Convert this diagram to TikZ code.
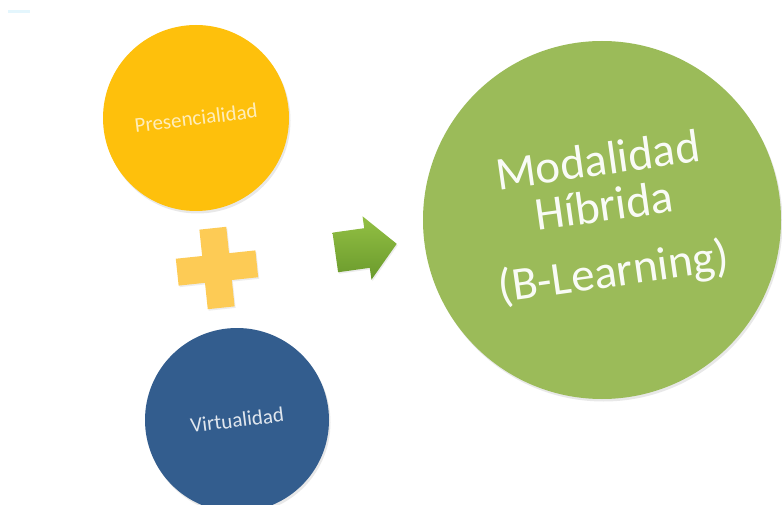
\documentclass[tikz,border=0pt]{standalone}
\usepackage{fontspec}
\setmainfont{Carlito}
\usetikzlibrary{shadows}
\definecolor{cyel}{HTML}{FEC00C}
\definecolor{cplus}{HTML}{FDCB55}
\definecolor{cblue}{HTML}{335D8E}
\definecolor{cgreen}{HTML}{9BBB59}
\definecolor{carrowT}{HTML}{93C044}
\definecolor{carrowB}{HTML}{6A9A2C}
\tikzset{
  disc/.style={circle, inner sep=0pt, drop shadow={opacity=0.18, shadow xshift=1.5pt, shadow yshift=-2.5pt}},
  smalltxt/.style={font=\fontsize{21}{21}\selectfont, rotate=7, inner sep=0pt},
  bigtxt/.style={font=\fontsize{47}{46}\selectfont, rotate=8, align=center, inner sep=0pt, text=white, text opacity=0.95},
}
\begin{document}
\begin{tikzpicture}[x=1pt, y=-1pt]
\useasboundingbox (0,0) rectangle (782,505);
\fill[white] (0,0) rectangle (782,505);
% faint mark top-left
\fill[cyan!30!white, opacity=0.35] (8,10) rectangle (30,13);
% circles
\node[disc, fill=cyel, minimum size=186pt] (pres) at (196,118) {};
\node[disc, fill=cblue, minimum size=184pt] (virt) at (237,420) {};
\node[disc, fill=cgreen, minimum size=358pt] (hyb) at (602,220) {};
% labels
\node[smalltxt, text=white, text opacity=0.72] (prestxt) at (pres.center) {Presencialidad};
\node[smalltxt, text=white, text opacity=0.85] (virttxt) at (virt.center) {Virtualidad};
\node[bigtxt] (hybtxt) at (606,219) {Modalidad\\Híbrida\\[20pt](B-Learning)};
% plus sign
\begin{scope}[shift={(217,268)}, rotate=6]
\fill[cplus, drop shadow={opacity=0.15, shadow xshift=1pt, shadow yshift=-1.5pt}]
  (-13.5,-40) -- (13.5,-40) -- (13.5,-13.5) -- (40,-13.5) -- (40,13.5) -- (13.5,13.5)
  -- (13.5,40) -- (-13.5,40) -- (-13.5,13.5) -- (-40,13.5) -- (-40,-13.5) -- (-13.5,-13.5) -- cycle;
\end{scope}
% arrow
\begin{scope}[shift={(367,248)}, rotate=8]
\shade[top color=carrowT, bottom color=carrowB, drop shadow={opacity=0.15, shadow xshift=1pt, shadow yshift=-1.5pt}]
  (-32,-20) -- (0,-20) -- (0,-32) -- (30,0) -- (0,32) -- (0,20) -- (-32,20) -- cycle;
\end{scope}
\end{tikzpicture}
\end{document}
